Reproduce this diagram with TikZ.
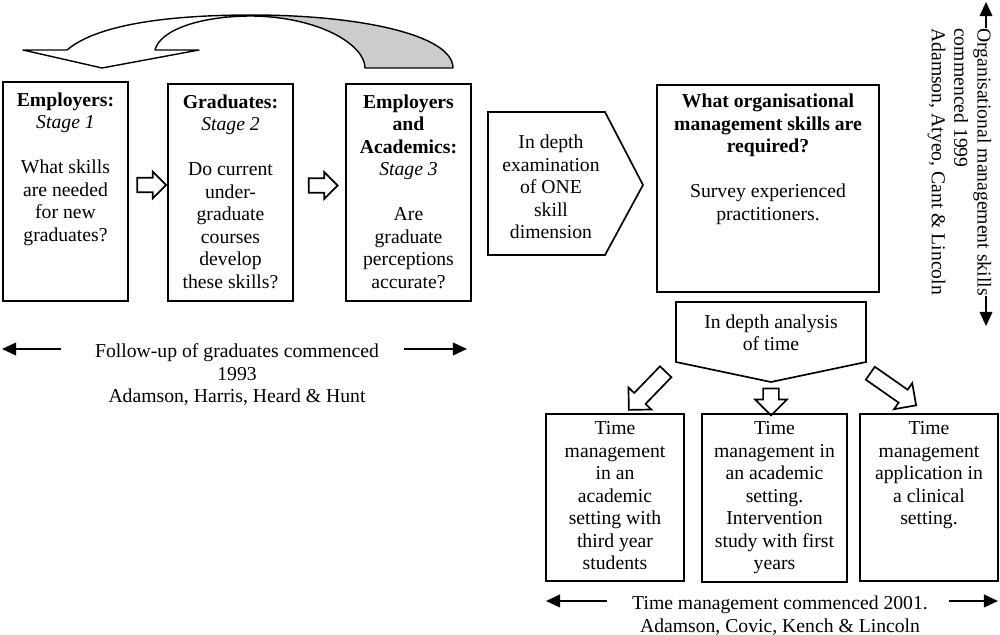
\documentclass[tikz,border=0pt]{standalone}
\usepackage{fontspec}
\setmainfont{Liberation Serif}
\usetikzlibrary{arrows.meta,calc,fit,positioning,shapes.arrows}
\definecolor{ribbongray}{RGB}{204,204,204}
\tikzset{
boxstyle/.style={
  draw=black,
  line width=1.2pt,
  inner sep=0pt,
  }
}
\tikzset{
boxtext/.style={
  inner sep=0pt,
  align=center,
  font=\fontsize{14}{16}\selectfont,
  }
}
\tikzset{
headline/.style={boxtext, text height=14pt, text depth=2pt}
}
\tikzset{
blockarrow/.style={
  single arrow,
  draw=black,
  line width=1.2pt,
  inner xsep=0pt,
  }
}
\tikzset{
timeline/.style={
  line width=1.3pt,
  -{Triangle[length=10pt,width=9pt]}
  }
}

\begin{document}
\begin{tikzpicture}[x=0.025cm, y=-0.025cm]
    \useasboundingbox (0,0) rectangle (1000,635);

    % returning ribbon arrow
    \fill[ribbongray] (252,15) .. controls (360,15) and (453,35) .. (453,68)
        -- (365,68) .. controls (365,45) and (320,17) .. (252,16) -- cycle;
    \draw[line width=1pt, line join=round] (67,50) .. controls (100,22) and (180,15) .. (252,15)
        .. controls (360,15) and (453,35) .. (453,68) -- (365,68)
        .. controls (365,45) and (320,17) .. (252,16)
        .. controls (200,16) and (160,30) .. (155,50)
        -- (199,50) -- (102,68) -- (23,50) -- cycle;

    % stage boxes
    \node[boxstyle, fit={(3,82) (128,301)}] (emp) {};
    \node[boxstyle, fit={(168,84) (293,301)}] (grad) {};
    \node[boxstyle, fit={(346,84) (471,301)}] (acad) {};
    \node[boxtext, below=8pt of emp.north] (emptxt) {\textbf{Employers:}\\\textit{Stage 1}\\[16pt]What skills\\are needed\\for new\\graduates?};
    \node[boxtext, below=8pt of grad.north] (gradtxt) {\textbf{Graduates:}\\\textit{Stage 2}\\[16pt]Do current\\under-\\graduate\\courses\\develop\\these skills?};
    \node[boxtext, below=8pt of acad.north] (acadtxt) {\textbf{Employers}\\\textbf{and}\\\textbf{Academics:}\\\textit{Stage 3}\\[16pt]Are\\graduate\\perceptions\\accurate?};
    \node[blockarrow, minimum height=20.6pt, inner ysep=4.6pt, single arrow head extend=4.3pt] (a12) at ($(emp.east)!.5!(grad.west)+(0,-7)$) {};
    \node[blockarrow, minimum height=20.6pt, inner ysep=4.6pt, single arrow head extend=4.3pt] (a23) at ($(grad.east)!.5!(acad.west)+(0,-7)$) {};

    % follow-up timeline
    \node[headline] (follow) at (237,349) {Follow-up of graduates commenced};
    \node[boxtext, below=4.4pt of follow] (followby) {1993\\Adamson, Harris, Heard \& Hunt};
    \coordinate (fl) at (2,0);
    \coordinate (fr) at (467,0);
    \draw[timeline] ([xshift=-24pt]follow.west) -- (follow.west -| fl);
    \draw[timeline] ([xshift=18pt]follow.east) -- (follow.east -| fr);

    % one skill dimension
    \draw[line width=1.2pt] (488,112) -- (605,112) -- (643,185) -- (605,255) -- (488,255) -- cycle;
    \node[boxtext] (exam) at (551,187) {In depth\\examination\\of ONE\\skill\\dimension};

    % organisational skills
    \node[boxstyle, fit={(657,85) (879,292)}] (org) {};
    \node[boxtext, below=7pt of org.north] (orgtxt) {\textbf{What organisational}\\\textbf{management skills are}\\\textbf{required?}\\[16pt]Survey experienced\\practitioners.};

    % time analysis
    \draw[line width=1.2pt] (676,302) -- (866,302) -- (866,362) -- (771,382) -- (676,362) -- cycle;
    \node[boxtext] (time) at (771,333) {In depth analysis\\of time};
    \node[blockarrow, rotate=-134, minimum height=37.7pt, inner ysep=5pt, single arrow head extend=5.7pt] (ta) at (650,388) {};
    \node[blockarrow, rotate=-90, minimum height=19.2pt, inner ysep=5pt, single arrow head extend=5.7pt] (tb) at (771,398) {};
    \node[blockarrow, rotate=-35, minimum height=39.8pt, inner ysep=5pt, single arrow head extend=5.7pt] (tc) at (890,387) {};

    % time management boxes
    \node[boxstyle, fit={(546,414) (684,581)}] (tma) {};
    \node[boxstyle, fit={(702,414) (847,582)}] (tmb) {};
    \node[boxstyle, fit={(860,414) (998,581)}] (tmc) {};
    \node[boxtext, below=6pt of tma.north] (tmatxt) {Time\\management\\in an\\academic\\setting with\\third year\\students};
    \node[boxtext, below=6pt of tmb.north] (tmbtxt) {Time\\management in\\an academic\\setting.\\Intervention\\study with first\\years};
    \node[boxtext, below=6pt of tmc.north] (tmctxt) {Time\\management\\application in\\a clinical\\setting.};

    % time management timeline
    \node[headline] (tmline) at (780,601) {Time management commenced 2001.};
    \node[boxtext, below=4.4pt of tmline] (tmby) {Adamson, Covic, Kench \& Lincoln};
    \coordinate (tl) at (546,0);
    \coordinate (tr) at (998,0);
    \draw[timeline] ([xshift=-18pt]tmline.west) -- (tmline.west -| tl);
    \draw[timeline] ([xshift=15pt]tmline.east) -- (tmline.east -| tr);

    % organisational timeline
    \node[headline, rotate=-90] (orgline) at (986,162) {Organisational management skills};
    \node[boxtext, rotate=-90, align=left, anchor=north west] (orgby) at ([xshift=-4.4pt]orgline.south west) {commenced 1999\\Adamson, Atyeo, Cant \& Lincoln};
    \coordinate (ot) at (0,2);
    \coordinate (ob) at (0,326);
    \draw[timeline] (orgline.west) -- (orgline.west |- ot);
    \draw[timeline] (orgline.east) -- (orgline.east |- ob);
\end{tikzpicture}
\end{document}
